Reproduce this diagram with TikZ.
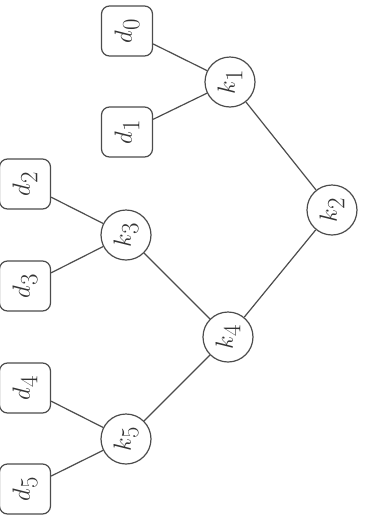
\documentclass[tikz,border=0pt]{standalone}
\begin{document}
\begin{tikzpicture}[x=1pt,y=-1pt,
  every node/.style={font=\fontsize{35}{38}\selectfont, rotate=90, inner sep=0pt, text=black!80},
  keynode/.style={circle, draw=black!70, line width=1.2pt, minimum size=50pt},
  leafnode/.style={rectangle, rounded corners=8pt, draw=black!70, line width=1.2pt, minimum width=50pt, minimum height=51pt},
  edge/.style={draw=black!70, line width=1.2pt}]
\useasboundingbox (0,0) rectangle (366,528);
\node[keynode] (k1) at (230,82) {$k_1$};
\node[keynode] (k2) at (332,210) {$k_2$};
\node[keynode] (k3) at (126,235) {$k_3$};
\node[keynode] (k4) at (228,337) {$k_4$};
\node[keynode] (k5) at (126,439) {$k_5$};
\node[leafnode] (d0) at (127,31) {$d_0$};
\node[leafnode] (d1) at (127,132) {$d_1$};
\node[leafnode] (d2) at (25,184) {$d_2$};
\node[leafnode] (d3) at (25,286) {$d_3$};
\node[leafnode] (d4) at (25,388) {$d_4$};
\node[leafnode] (d5) at (25,489) {$d_5$};
\draw[edge] (d0) -- (k1);
\draw[edge] (d1) -- (k1);
\draw[edge] (k1) -- (k2);
\draw[edge] (k2) -- (k4);
\draw[edge] (k3) -- (k4);
\draw[edge] (d2) -- (k3);
\draw[edge] (d3) -- (k3);
\draw[edge] (k4) -- (k5);
\draw[edge] (d4) -- (k5);
\draw[edge] (d5) -- (k5);
\end{tikzpicture}
\end{document}
